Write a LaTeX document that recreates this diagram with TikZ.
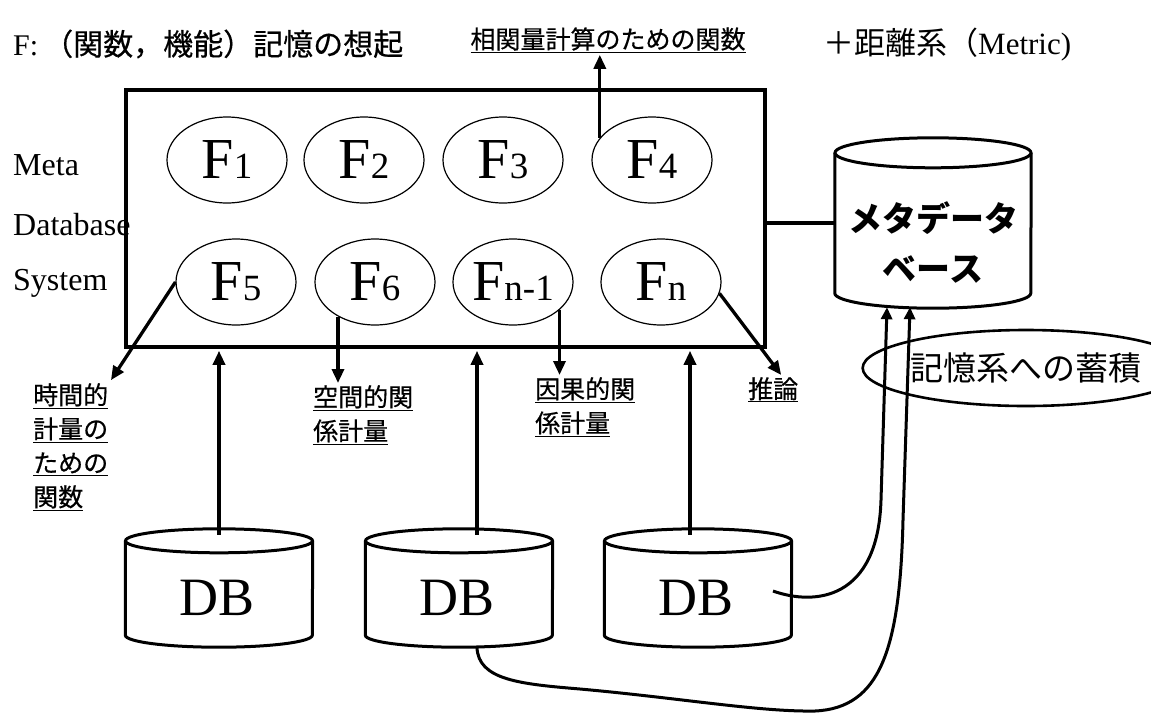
\documentclass[tikz,border=0pt]{standalone}
\usepackage{fontspec}
\setmainfont{Liberation Serif}
\newfontfamily\cjk{Noto Sans CJK JP}
\newfontfamily\cjkm[FakeBold=0.5]{Noto Sans CJK JP}
\usetikzlibrary{shapes.geometric,arrows.meta,calc}
\newcommand{\fsub}[1]{{\fontsize{37}{37}\selectfont #1}}
\begin{document}
\begin{tikzpicture}[x=1pt,y=1pt,
  thickline/.style={line width=3.6pt},
  arr/.style={line width=3.3pt,-{Triangle[length=14pt,width=12pt]}},
  carr/.style={line width=3pt,-{Triangle[length=12pt,width=11pt]}},
  fell/.style={ellipse,draw,line width=1.2pt,minimum width=120pt,minimum height=86pt,inner sep=0pt,font=\fontsize{58}{58}\selectfont},
  side/.style={anchor=west,inner sep=0pt,font=\fontsize{32}{32}\selectfont},
  ulab/.style={align=left,inner sep=2pt,font=\cjkm\fontsize{25}{34}\selectfont},
  cylline/.style={line width=3pt},
  dbbox/.style={minimum width=187pt,minimum height=118pt,inner sep=0pt},
  dbtext/.style={font=\fontsize{54}{54}\selectfont,inner sep=0pt},
]
\fill[white] (0,0) rectangle (1151,-713);
\useasboundingbox (0,0) rectangle (1151,-713);

% titles
\node[anchor=west,inner sep=0pt] (title) at (13,-44) {\fontsize{30}{30}\selectfont F:\,{\cjkm （関数，機能）記憶の想起}};
\node[anchor=west,inner sep=0pt] (metric) at (823,-45) {\fontsize{31}{31}\selectfont{\cjk ＋距離系（}Metric)};

% main box
\node[draw,thickline,minimum width=639pt,minimum height=257pt,inner sep=0pt] (mdbs) at (445.5,-218.5) {};

% side labels
\node[side] (lmeta) at (13,-165) {Meta};
\node[side] (ldb) at (13,-225) {Database};
\node[side] (lsys) at (13,-283) {System};

% function ellipses
\node[fell] (f1) at (227,-160) {F\fsub{1}};
\node[fell] (f2) at (364,-160) {F\fsub{2}};
\node[fell] (f3) at (503,-160) {F\fsub{3}};
\node[fell] (f4) at (652,-160) {F\fsub{4}};
\node[fell] (f5) at (236,-282) {F\fsub{5}};
\node[fell] (f6) at (375,-282) {F\fsub{6}};
\node[fell] (fnm1) at (513,-282) {F\fsub{n-1}};
\node[fell] (fn) at (661,-282) {F\fsub{n}};

% labels
\node[ulab,anchor=north west] (t1) at (31,-381) {\underline{時間的}\\\underline{計量の}\\\underline{ための}\\\underline{関数}};
\node[ulab,anchor=north west] (t2) at (311,-383) {\underline{空間的関}\\\underline{係計量}};
\node[ulab,anchor=north west] (t3) at (533,-375) {\underline{因果的関}\\\underline{係計量}};
\node[ulab,anchor=north west] (t4) at (746,-375) {\underline{推論}};
\node[ulab] (t5) at (608,-40) {\underline{相関量計算のための関数}};

% arrows out of functions
\draw[arr,shorten >=1pt] (f5.west) -- (t1.north east);
\draw[arr] (f6.223) -- (f6.223 |- t2.north);
\draw[arr] (fnm1.329) -- (fnm1.329 |- t3.north);
\draw[arr] (fn.349) -- ($(t4.north)+(8,0)$);
\draw[arr] (f4.157) -- (f4.157 |- t5.south);

% metadata cylinder
\node[minimum width=196pt,minimum height=170pt,inner sep=0pt] (meta) at (933,-223) {};
\draw[cylline] ($(meta.north)+(0,-15)$) ellipse [x radius=98pt,y radius=15pt];
\draw[cylline] ($(meta.north west)+(0,-15)$) -- ($(meta.south west)+(0,15)$)
  arc[start angle=180,end angle=360,x radius=98pt,y radius=15pt] -- ($(meta.north east)+(0,-15)$);
\node[font=\cjk\bfseries\fontsize{34}{50}\selectfont,align=center,inner sep=0pt] (metatext) at (933,-242) {メタデータ\\ベース};
\draw[thickline] (meta.west -| mdbs.east) -- (meta.west);

% storage ellipse
\node[ellipse,draw,line width=2.6pt,minimum width=248pt,minimum height=76pt,inner sep=0pt,font=\cjk\fontsize{33}{33}\selectfont] (store) at (1026,-368) {記憶系への蓄積};

% DB cylinders
\foreach \n/\cx in {db1/219,db2/459,db3/698}{
  \node[dbbox] (\n) at (\cx,-588) {};
  \draw[cylline] ($(\n.north)+(0,-12)$) ellipse [x radius=93.5pt,y radius=12pt];
  \draw[cylline] ($(\n.north west)+(0,-12)$) -- ($(\n.south west)+(0,12)$)
    arc[start angle=180,end angle=360,x radius=93.5pt,y radius=12pt] -- ($(\n.north east)+(0,-12)$);
}
\node[dbtext] (dbt1) at ($(db1.center)+(-2,-10)$) {DB};
\node[dbtext] (dbt2) at ($(db2.center)+(-2,-10)$) {DB};
\node[dbtext] (dbt3) at ($(db3.center)+(-2,-10)$) {DB};

% DB -> box arrows
\draw[arr,shorten >=2pt] ([yshift=-6pt]db1.north) -- (db1.north |- mdbs.south);
\draw[arr,shorten >=2pt] ([xshift=18pt,yshift=-6pt]db2.north) -- ([xshift=18pt]db2.north |- mdbs.south);
\draw[arr,shorten >=2pt] ([xshift=-8pt,yshift=-6pt]db3.north) -- ([xshift=-8pt]db3.north |- mdbs.south);

% DB -> metadata curves
\coordinate (s3) at ($(db3.center)+(75,-3)$);
\draw[carr] (s3) .. controls (815,-606) and (878,-600) .. (881,-500) -- ([xshift=-46pt,yshift=1pt]meta.south);
\draw[carr] ([xshift=18pt]db2.south) .. controls (478,-680) and (520,-684) .. (580,-689)
  .. controls (680,-698) and (760,-712) .. (815,-711)
  .. controls (880,-708) and (900,-650) .. (903,-520) -- ([xshift=-23pt,yshift=1pt]meta.south);
\end{tikzpicture}
\end{document}
